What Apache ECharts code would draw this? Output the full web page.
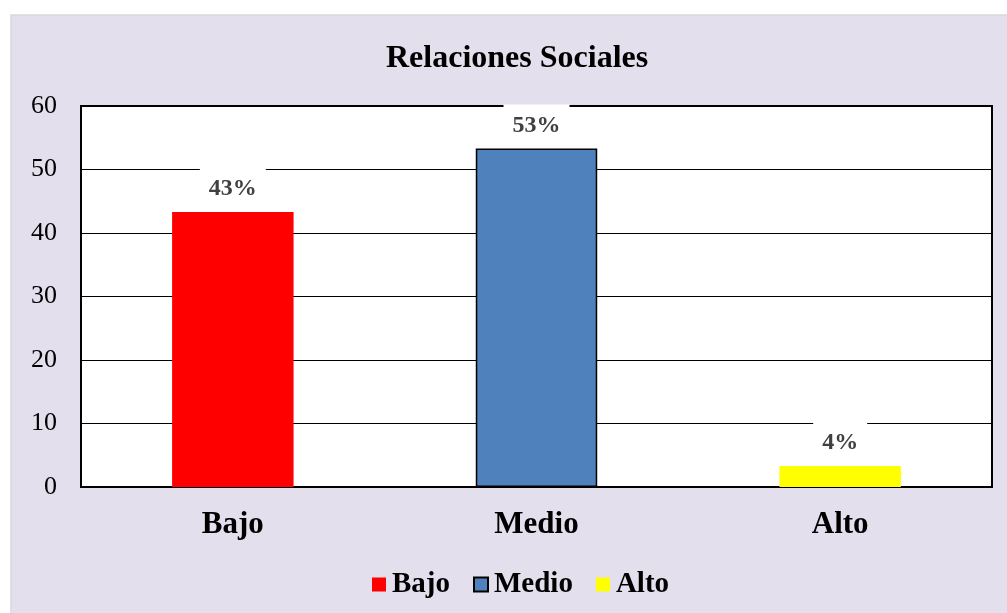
<!DOCTYPE html>
<html lang="es">
<head>
    <meta charset="UTF-8">
    <script src="https://cdn.jsdelivr.net/npm/echarts@6/dist/echarts.min.js"></script>
    <style>
        body { margin: 0; background: #ffffff; }
        #main { width: 1007px; height: 613px; }
    </style>
</head>
<body>
<div id="main"></div>
<script>
    var categories = ['Bajo', 'Medio', 'Alto'];
    var values = [43.3, 53.3, 3.3];
    var labels = ['43%', '53%', '4%'];
    var colors = ['#ff0000', '#4f81bd', '#ffff00'];
    var yTicks = [0, 60, 10]; // min, max, interval

    var serif = '"Liberation Serif", "Times New Roman", serif';

    var series = [];
    for (var i = 0; i < categories.length; i++) {
        var d = [];
        for (var j = 0; j < categories.length; j++) {
            d.push(j === i ? values[i] : null);
        }
        series.push({
            name: categories[i],
            type: 'bar',
            data: d,
            barWidth: '40%',
            barGap: '-100%',
            itemStyle: {
                color: colors[i],
                borderColor: i === 1 ? '#000' : colors[i],
                borderWidth: i === 1 ? 1.5 : 0
            },
            label: {
                show: true,
                position: 'top',
                distance: 2,
                formatter: (function (k) { return function () { return labels[k]; }; })(i),
                color: '#404040',
                fontFamily: serif,
                fontWeight: 'bold',
                fontSize: 24,
                backgroundColor: '#ffffff',
                padding: [9, 9]
            }
        });
    }

    var chart = echarts.init(document.getElementById('main'));
    chart.setOption({
        animation: false,
        graphic: [{
            type: 'rect',
            z: -10,
            shape: { x: 11, y: 15, width: 1000, height: 605 },
            style: { fill: '#e4dfec', stroke: '#d9d9d9', lineWidth: 1.5 }
        }],
        title: {
            text: 'Relaciones Sociales',
            left: 381,
            top: 38,
            textStyle: { fontFamily: serif, fontWeight: 'bold', fontSize: 32, color: '#000' }
        },
        legend: {
            data: categories,
            left: 367,
            top: 565,
            itemWidth: 14,
            itemHeight: 14,
            itemGap: 23,
            icon: 'rect',
            textStyle: { fontFamily: serif, fontWeight: 'bold', fontSize: 29, color: '#000', padding: [0, 0, 0, 1] }
        },
        grid: {
            left: 81, right: 15, top: 106, bottom: 126,
            show: true,
            backgroundColor: '#ffffff',
            borderColor: '#000',
            borderWidth: 2
        },
        xAxis: {
            type: 'category',
            data: categories,
            axisLine: { lineStyle: { color: '#000', width: 2 } },
            axisTick: { show: false },
            axisLabel: { margin: 22, fontFamily: serif, fontWeight: 'bold', fontSize: 31, color: '#000' }
        },
        yAxis: {
            type: 'value',
            min: yTicks[0],
            max: yTicks[1],
            interval: yTicks[2],
            axisLine: { show: true, lineStyle: { color: '#000', width: 2 } },
            axisTick: { show: false },
            splitLine: { lineStyle: { color: '#000', width: 1.2 } },
            axisLabel: { margin: 24, fontFamily: serif, fontSize: 26, color: '#000' }
        },
        series: series
    });
</script>
</body>
</html>
